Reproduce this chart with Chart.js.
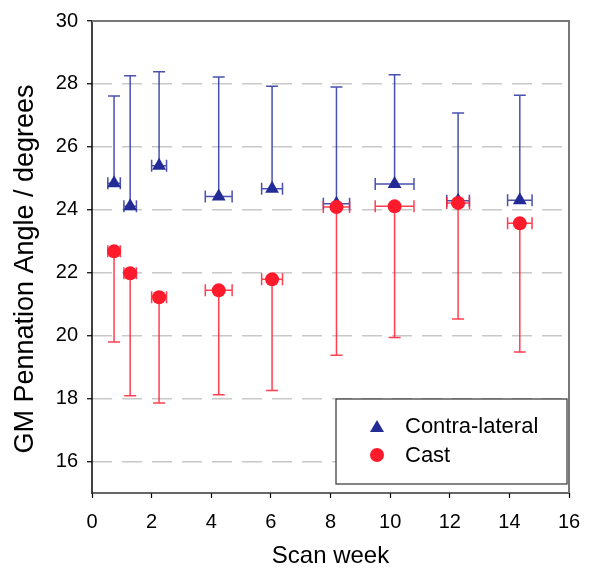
<!DOCTYPE html>
<html><head><meta charset="utf-8">
<style>html,body{margin:0;padding:0;background:#fff}#wrap{width:589px;height:569px;position:relative}</style>
</head><body><div id="wrap"><canvas id="c" width="589" height="569"></canvas></div>
<script src="https://cdn.jsdelivr.net/npm/chart.js@4/dist/chart.umd.min.js"></script>
<script>
// ---- data ----
const weeks      = [0.74, 1.28, 2.25, 4.25, 6.04, 8.20, 10.15, 12.28, 14.35];
const weekErr    = [0.21, 0.21, 0.25, 0.45, 0.35, 0.44, 0.65, 0.38, 0.41];
const contra     = [24.84, 24.11, 25.40, 24.42, 24.67, 24.19, 24.82, 24.29, 24.30];
const contraErrUp= [2.78, 4.15, 2.99, 3.80, 3.26, 3.71, 3.47, 2.79, 3.34];
const cast       = [22.68, 21.98, 21.22, 21.44, 21.79, 24.09, 24.11, 24.22, 23.57];
const castErrDown= [2.88, 3.89, 3.36, 3.32, 3.53, 4.71, 4.17, 3.69, 4.09];
const xTicks     = [0, 2, 4, 6, 8, 10, 12, 14, 16];
const yTicks     = [16, 18, 20, 22, 24, 26, 28, 30];
const seriesNames= ['Contra-lateral', 'Cast'];
const yTitle     = 'GM Pennation Angle / degrees';
const xTitle     = 'Scan week';

const FONT = "'Liberation Sans', Arial, Helvetica, sans-serif";
const BLUE = '#232C96', BLUE_ERR = 'rgba(40,50,160,0.85)';
const RED  = '#FF1A2C', RED_ERR  = 'rgba(255,30,50,0.85)';

const errorBars = {
  id: 'errorBars',
  beforeDatasetsDraw(chart) {
    const {ctx, scales: {x, y}} = chart;
    const cap = 6;
    function drawSet(vals, errY, sign, color) {
      ctx.save();
      ctx.setLineDash([]);
      ctx.strokeStyle = color; ctx.lineWidth = 1.5;
      vals.forEach((v, i) => {
        const px = x.getPixelForValue(weeks[i]);
        const py = y.getPixelForValue(v);
        const pe = y.getPixelForValue(v + sign * errY[i]);
        const xl = x.getPixelForValue(weeks[i] - weekErr[i]);
        const xr = x.getPixelForValue(weeks[i] + weekErr[i]);
        ctx.beginPath();
        ctx.moveTo(px, py); ctx.lineTo(px, pe);
        ctx.moveTo(px - cap, pe); ctx.lineTo(px + cap, pe);
        ctx.moveTo(xl, py); ctx.lineTo(xr, py);
        ctx.moveTo(xl, py - cap); ctx.lineTo(xl, py + cap);
        ctx.moveTo(xr, py - cap); ctx.lineTo(xr, py + cap);
        ctx.stroke();
      });
      ctx.restore();
    }
    drawSet(contra, contraErrUp, 1, BLUE_ERR);
    drawSet(cast, castErrDown, -1, RED_ERR);
  },
  afterDraw(chart) {
    const {ctx, chartArea: a} = chart;
    ctx.save();
    ctx.setLineDash([]);
    ctx.lineWidth = 1.5; ctx.strokeStyle = '#000';
    ctx.beginPath();
    ctx.moveTo(a.left, a.top); ctx.lineTo(a.left, a.bottom + 1);
    ctx.stroke();
    ctx.strokeStyle = '#333';
    ctx.beginPath();
    ctx.moveTo(a.left, a.bottom); ctx.lineTo(a.right, a.bottom);
    ctx.stroke();
    ctx.strokeStyle = '#777'; ctx.lineWidth = 2;
    ctx.beginPath();
    ctx.moveTo(a.left, a.top); ctx.lineTo(a.right, a.top); ctx.lineTo(a.right, a.bottom);
    ctx.stroke();
    // y-axis title (real text)
    ctx.save();
    ctx.translate(26, 269);
    ctx.rotate(-Math.PI / 2);
    ctx.fillStyle = '#000';
    ctx.font = '27px ' + FONT;
    ctx.textAlign = 'center'; ctx.textBaseline = 'middle';
    ctx.fillText(yTitle, 0, 0);
    ctx.restore();
    // legend box
    ctx.strokeStyle = '#333'; ctx.lineWidth = 1.2;
    ctx.fillStyle = '#fff';
    ctx.fillRect(336, 399, 231, 85);
    ctx.strokeRect(336, 399, 231, 85);
    ctx.fillStyle = BLUE;
    ctx.beginPath();
    ctx.moveTo(377, 420); ctx.lineTo(384, 432); ctx.lineTo(370, 432); ctx.closePath(); ctx.fill();
    ctx.fillStyle = RED;
    ctx.beginPath(); ctx.arc(377, 455, 7, 0, Math.PI * 2); ctx.fill();
    ctx.fillStyle = '#000';
    ctx.font = '22px ' + FONT;
    ctx.textBaseline = 'middle';
    ctx.textAlign = 'left';
    ctx.fillText(seriesNames[0], 405, 427);
    ctx.fillText(seriesNames[1], 405, 456);
    ctx.restore();
  }
};

const pts = (ys) => weeks.map((w, i) => ({x: w, y: ys[i]}));

new Chart(document.getElementById('c'), {
  type: 'scatter',
  data: {
    datasets: [
      {label: seriesNames[0], data: pts(contra), order: 1, pointStyle: 'triangle', pointRadius: 8,
       backgroundColor: BLUE, borderColor: BLUE, borderWidth: 0},
      {label: seriesNames[1], data: pts(cast), order: 0, pointStyle: 'circle', pointRadius: 7,
       backgroundColor: RED, borderColor: RED, borderWidth: 0}
    ]
  },
  options: {
    responsive: false, animation: false, devicePixelRatio: 1,
    layout: {padding: {top: 15, right: 20, left: 0, bottom: 0}},
    plugins: {legend: {display: false}, tooltip: {enabled: false}},
    scales: {
      x: {
        type: 'linear', min: 0, max: 16,
        afterBuildTicks: (s) => { s.ticks = xTicks.map(v => ({value: v})); },
        afterFit: (s) => { s.height = 76; s.paddingLeft = 0; s.paddingRight = 0; },
        grid: {display: true, drawOnChartArea: false, drawTicks: true, tickLength: 5, tickColor: '#000', tickWidth: 1.2},
        border: {display: false},
        ticks: {color: '#000', font: {family: FONT, size: 20}, padding: 12, maxRotation: 0},
        title: {display: true, text: xTitle, color: '#000', font: {family: FONT, size: 24}, padding: {top: 0, bottom: -2}}
      },
      y: {
        type: 'linear', min: 15, max: 30,
        afterBuildTicks: (s) => { s.ticks = yTicks.map(v => ({value: v})); },
        afterFit: (s) => { s.width = 92; },
        grid: {display: true, drawOnChartArea: true, drawTicks: true, tickLength: 5,
               color: (c) => c.tick && c.tick.value === 30 ? 'rgba(0,0,0,0)' : '#C8C8C8',
               lineWidth: 1.5, tickColor: '#000', tickWidth: 1.2, tickBorderDash: []},
        border: {display: false, dash: [20, 10]},
        ticks: {color: '#000', font: {family: FONT, size: 20}, padding: 9},
        title: {display: false}
      }
    }
  },
  plugins: [errorBars]
});
</script>
</body></html>
